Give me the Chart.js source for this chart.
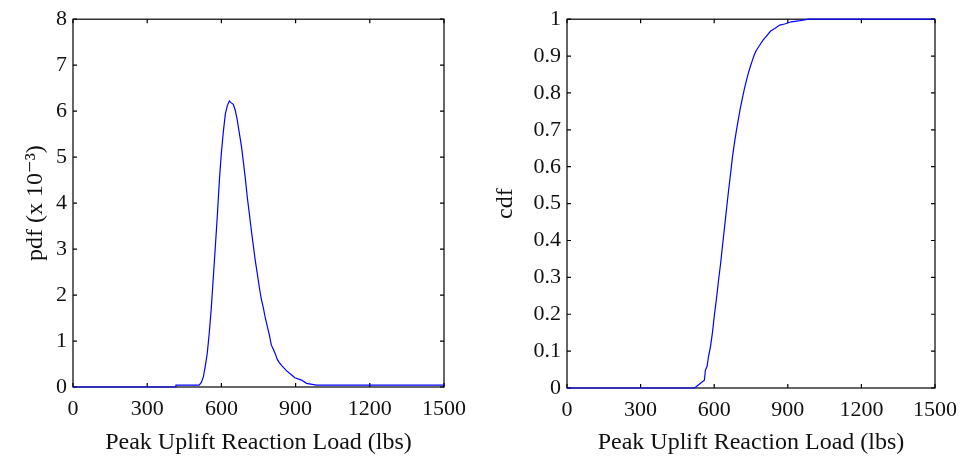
<!DOCTYPE html>
<html>
<head>
<meta charset="utf-8">
<script src="https://cdn.jsdelivr.net/npm/chart.js@4"></script>
<style>
  html, body { margin: 0; padding: 0; background: #fff; }
  #wrap { position: relative; width: 966px; height: 462px; }
  .box { position: absolute; top: 0; width: 483px; height: 462px; }
</style>
</head>
<body>
<div id="wrap">
  <div class="box" style="left:0"><canvas id="pdf"></canvas></div>
  <div class="box" style="left:483px"><canvas id="cdf"></canvas></div>
</div>
<script>
// ---- data ----
const pdfLoad  = [0, 415, 416, 510, 519, 527, 535, 543, 551, 559, 567, 575, 584, 592, 600, 608, 616, 624, 632, 640, 648, 656, 664, 672, 681, 689, 697, 705, 713, 721, 729, 737, 745, 753, 761, 770, 778, 786, 794, 802, 810, 818, 826, 834, 845, 864, 884, 897, 924, 944, 984, 1500];
const pdfValue = [0, 0, 0.04, 0.04, 0.10, 0.22, 0.46, 0.74, 1.18, 1.71, 2.36, 3.01, 3.77, 4.51, 5.10, 5.56, 5.94, 6.12, 6.22, 6.18, 6.15, 6.02, 5.81, 5.54, 5.24, 4.89, 4.52, 4.11, 3.77, 3.41, 3.08, 2.75, 2.47, 2.18, 1.92, 1.71, 1.49, 1.31, 1.13, 0.91, 0.82, 0.72, 0.60, 0.53, 0.46, 0.35, 0.26, 0.20, 0.15, 0.08, 0.04, 0.04];

const cdfLoad  = [0, 520, 543, 560, 564, 571, 577, 585, 593, 601, 609, 617, 626, 634, 642, 650, 658, 666, 674, 682, 690, 698, 706, 715, 723, 731, 739, 747, 755, 763, 772, 786, 799, 813, 830, 847, 867, 887, 914, 950, 985, 1500];
const cdfValue = [0, 0, 0.012, 0.021, 0.048, 0.059, 0.086, 0.113, 0.151, 0.199, 0.241, 0.288, 0.337, 0.387, 0.435, 0.484, 0.532, 0.577, 0.624, 0.662, 0.696, 0.727, 0.757, 0.786, 0.811, 0.833, 0.853, 0.871, 0.887, 0.903, 0.916, 0.930, 0.943, 0.954, 0.968, 0.975, 0.984, 0.987, 0.993, 0.996, 1.0, 1.0];

const xTicks = [0, 300, 600, 900, 1200, 1500];
const pdfTicks = [0, 1, 2, 3, 4, 5, 6, 7, 8];
const cdfTicks = [0, 0.1, 0.2, 0.3, 0.4, 0.5, 0.6, 0.7, 0.8, 0.9, 1];

const xTitle = 'Peak Uplift Reaction Load (lbs)';
const pdfTitle = 'pdf (x 10\u207B\u00B3)';
const cdfTitle = 'cdf';

// ---- styling ----
const FONT = "'Liberation Serif', 'DejaVu Serif', serif";
const TEXT = '#111';

const framePlugin = {
  id: 'frame',
  beforeDatasetsDraw(chart) {
    const { ctx, chartArea: a, scales } = chart;
    const x = scales.x, y = scales.y;
    ctx.save();
    ctx.strokeStyle = '#000';
    ctx.lineWidth = 1.2;
    ctx.strokeRect(a.left, a.top, a.right - a.left, a.bottom - a.top);
    const L = 4;
    ctx.beginPath();
    x.ticks.forEach(t => {
      const px = x.getPixelForValue(t.value);
      ctx.moveTo(px, a.bottom); ctx.lineTo(px, a.bottom - L);
      ctx.moveTo(px, a.top); ctx.lineTo(px, a.top + L);
    });
    y.ticks.forEach(t => {
      const py = y.getPixelForValue(t.value);
      ctx.moveTo(a.left, py); ctx.lineTo(a.left + L, py);
      ctx.moveTo(a.right, py); ctx.lineTo(a.right - L, py);
    });
    ctx.stroke();
    ctx.restore();
  }
};

function makeChart(id, xs, ys, yTicks, yMax, yTitle, pad, xHeight, yWidth, yTitlePad) {
  const points = xs.map((v, i) => ({ x: v, y: ys[i] }));
  return new Chart(document.getElementById(id), {
    type: 'line',
    data: { datasets: [{
      data: points,
      borderColor: 'rgb(0,0,255)',
      borderWidth: 1.2,
      pointRadius: 0,
      tension: 0,
      fill: false,
      clip: false
    }] },
    plugins: [framePlugin],
    options: {
      responsive: false,
      animation: false,
      devicePixelRatio: 1,
      layout: { padding: pad },
      plugins: { legend: { display: false }, tooltip: { enabled: false } },
      scales: {
        x: {
          type: 'linear', min: 0, max: 1500,
          afterBuildTicks: s => { s.ticks = xTicks.map(v => ({ value: v })); },
          afterFit: s => { s.height = xHeight; },
          grid: { display: false, drawTicks: false },
          border: { display: false },
          ticks: { color: TEXT, font: { family: FONT, size: 22 }, padding: 9, maxRotation: 0, autoSkip: false,
                   callback: v => String(v) },
          title: { display: true, text: xTitle, color: TEXT, font: { family: FONT, size: 24 }, padding: { top: 0, bottom: 5 } }
        },
        y: {
          type: 'linear', min: 0, max: yMax,
          afterBuildTicks: s => { s.ticks = yTicks.map(v => ({ value: v })); },
          afterFit: s => { s.width = yWidth; },
          grid: { display: false, drawTicks: false },
          border: { display: false },
          ticks: { color: TEXT, font: { family: FONT, size: 22 }, padding: 6, autoSkip: false,
                   callback: v => String(v) },
          title: { display: true, text: yTitle, color: TEXT, font: { family: FONT, size: 24 }, padding: { top: yTitlePad, bottom: 0 } }
        }
      }
    }
  });
}

function sizeCanvas(id) {
  const c = document.getElementById(id);
  c.width = 483; c.height = 462;
  c.style.width = '483px'; c.style.height = '462px';
}
sizeCanvas('pdf'); sizeCanvas('cdf');

// left: chart area x 73..444, y 18..387
makeChart('pdf', pdfLoad, pdfValue, pdfTicks, 8, pdfTitle,
  { top: 18, right: 39, left: 0, bottom: 0 }, 75, 73, 21);
// right: chart area x 84..455 (page 567..938), y 17..388
makeChart('cdf', cdfLoad, cdfValue, cdfTicks, 1, cdfTitle,
  { top: 17, right: 28, left: 0, bottom: 0 }, 74, 84, 8);
</script>
</body>
</html>
